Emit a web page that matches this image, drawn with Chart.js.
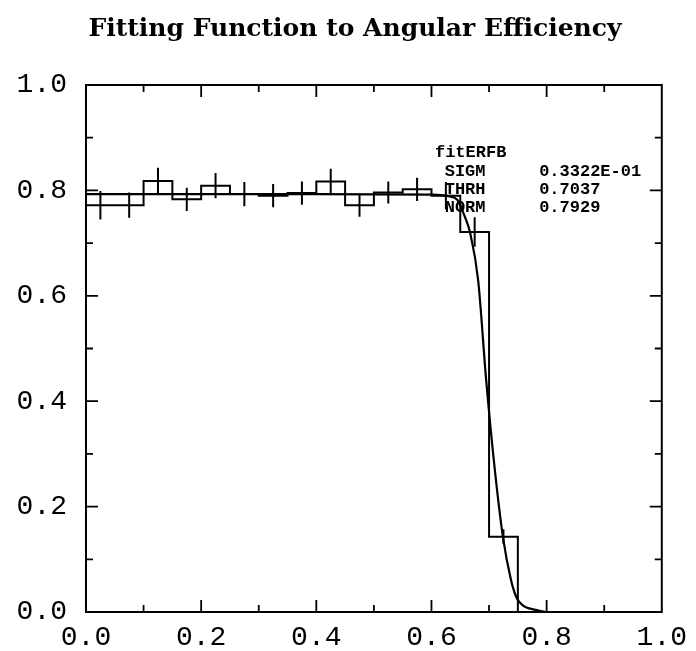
<!DOCTYPE html>
<html>
<head>
<meta charset="utf-8">
<script src="https://cdn.jsdelivr.net/npm/chart.js@4.4.0/dist/chart.umd.min.js"></script>
<style>
  html, body { margin: 0; padding: 0; background: #fff; }
  #wrap { width: 696px; height: 651px; }
</style>
</head>
<body>
<div id="wrap"><canvas id="effChart"></canvas></div>
<script>
// histogram: 20 bins of angular efficiency
var binEdges = [0.00, 0.05, 0.10, 0.15, 0.20, 0.25, 0.30, 0.35, 0.40, 0.45, 0.50,
                0.55, 0.60, 0.65, 0.70, 0.75, 0.80, 0.85, 0.90, 0.95, 1.00];
var binValues = [0.772, 0.772, 0.818, 0.783, 0.809, 0.793, 0.790, 0.795, 0.817, 0.772,
                 0.796, 0.802, 0.790, 0.721, 0.143, 0, 0, 0, 0, 0];
var binErrors = [0.027, 0.024, 0.025, 0.022, 0.024, 0.023, 0.022, 0.022, 0.024, 0.022,
                 0.021, 0.022, 0.026, 0.028, 0.014, 0, 0, 0, 0, 0];

// fitted erf curve
var fitX = [0.0, 0.2, 0.4, 0.6, 0.63, 0.645, 0.658, 0.667, 0.681, 0.695, 0.710,
            0.724, 0.738, 0.747, 0.758, 0.781, 0.80, 1.0];
var fitY = [0.793, 0.793, 0.793, 0.792, 0.789, 0.782, 0.750, 0.720, 0.630, 0.440, 0.270,
            0.143, 0.061, 0.029, 0.013, 0.004, 0.0, 0.0];

var tickValues = [0.0, 0.2, 0.4, 0.6, 0.8, 1.0];
var tickLabels = ['0.0', '0.2', '0.4', '0.6', '0.8', '1.0'];
var minorTickValues = [0.1, 0.3, 0.5, 0.7, 0.9];

var chartTitle = 'Fitting Function to Angular Efficiency';
var statHeader = 'fitERFB';
var statNames = ['SIGM', 'THRH', 'NORM'];
var statValues = ['0.3322E-01', '0.7037', '0.7929'];

// a point at each bin's right edge carrying that bin's height
var histPts = [{ x: binEdges[0], y: binValues[0] }];
for (var i = 0; i < binValues.length; i++) {
  histPts.push({ x: binEdges[i + 1], y: binValues[i] });
}

var errPts = [];
for (var j = 0; j < binValues.length; j++) {
  if (binErrors[j] <= 0) continue;
  var c = (binEdges[j] + binEdges[j + 1]) / 2;
  errPts.push({ x: c, y: binValues[j] - binErrors[j] });
  errPts.push({ x: c, y: binValues[j] + binErrors[j] });
  errPts.push({ x: c, y: null });
}

var fitPts = fitX.map(function (x, k) { return { x: x, y: fitY[k] }; });

// frame, inward ticks on all four sides, title and the fit box text
var frameTicks = {
  id: 'frameTicks',
  afterDatasetsDraw: function (chart) {
    var ctx = chart.ctx, a = chart.chartArea;
    var xs = chart.scales.x, ys = chart.scales.y;
    ctx.save();
    ctx.strokeStyle = '#000';
    ctx.lineWidth = 2;
    ctx.strokeRect(a.left, a.top, a.right - a.left, a.bottom - a.top);

    function mark(v, len) {
      var px = xs.getPixelForValue(v), py = ys.getPixelForValue(v);
      ctx.beginPath();
      ctx.moveTo(px, a.bottom); ctx.lineTo(px, a.bottom - len);
      ctx.moveTo(px, a.top); ctx.lineTo(px, a.top + len);
      ctx.moveTo(a.left, py); ctx.lineTo(a.left + len, py);
      ctx.moveTo(a.right, py); ctx.lineTo(a.right - len, py);
      ctx.stroke();
    }
    ctx.lineWidth = 1.8;
    tickValues.slice(1, -1).forEach(function (v) { mark(v, 12); });
    minorTickValues.forEach(function (v) { mark(v, 7); });

    ctx.fillStyle = '#000';
    ctx.textBaseline = 'middle';
    ctx.textAlign = 'center';
    ctx.font = 'bold 25px "DejaVu Serif", serif';
    ctx.fillText(chartTitle, 355, 29);

    ctx.font = 'bold 17px "Liberation Mono", monospace';
    ctx.textAlign = 'left';
    ctx.fillText(statHeader, xs.getPixelForValue(0.606), ys.getPixelForValue(0.871));
    var rowY = [0.835, 0.801, 0.767];
    statNames.forEach(function (n, k) {
      ctx.fillText(n, xs.getPixelForValue(0.623), ys.getPixelForValue(rowY[k]));
      ctx.fillText(statValues[k], xs.getPixelForValue(0.787), ys.getPixelForValue(rowY[k]));
    });
    ctx.restore();
  }
};

var tickFont = { family: '"Liberation Mono", monospace', size: 28 };

new Chart(document.getElementById('effChart'), {
  type: 'line',
  data: {
    datasets: [
      { label: 'histogram', data: histPts, stepped: 'after', borderColor: '#000',
        borderWidth: 2, pointRadius: 0, fill: false },
      { label: 'errors', data: errPts, borderColor: '#000', borderWidth: 2,
        pointRadius: 0, fill: false, spanGaps: false },
      { label: 'fitERFB', data: fitPts, borderColor: '#000', borderWidth: 2.2,
        pointRadius: 0, fill: false, cubicInterpolationMode: 'monotone' }
    ]
  },
  options: {
    responsive: true,
    maintainAspectRatio: false,
    animation: false,
    devicePixelRatio: 1,
    layout: { padding: { left: 0, right: 29, top: 85, bottom: 0 } },
    plugins: {
      legend: { display: false },
      tooltip: { enabled: false },
      title: { display: false }
    },
    scales: {
      x: {
        type: 'linear', min: 0, max: 1,
        grid: { display: false, drawTicks: false },
        border: { display: false },
        afterBuildTicks: function (s) { s.ticks = tickValues.map(function (v) { return { value: v }; }); },
        afterFit: function (s) { s.height = 39; },
        ticks: { font: tickFont, color: '#000', padding: 9, maxRotation: 0, autoSkip: false,
                 callback: function (v, i) { return tickLabels[i]; } }
      },
      y: {
        type: 'linear', min: 0, max: 1,
        grid: { display: false, drawTicks: false },
        border: { display: false },
        afterBuildTicks: function (s) { s.ticks = tickValues.map(function (v) { return { value: v }; }); },
        afterFit: function (s) { s.width = 86; },
        ticks: { font: tickFont, color: '#000', padding: 19, autoSkip: false,
                 callback: function (v, i) { return tickLabels[i]; } }
      }
    }
  },
  plugins: [frameTicks]
});
</script>
</body>
</html>
